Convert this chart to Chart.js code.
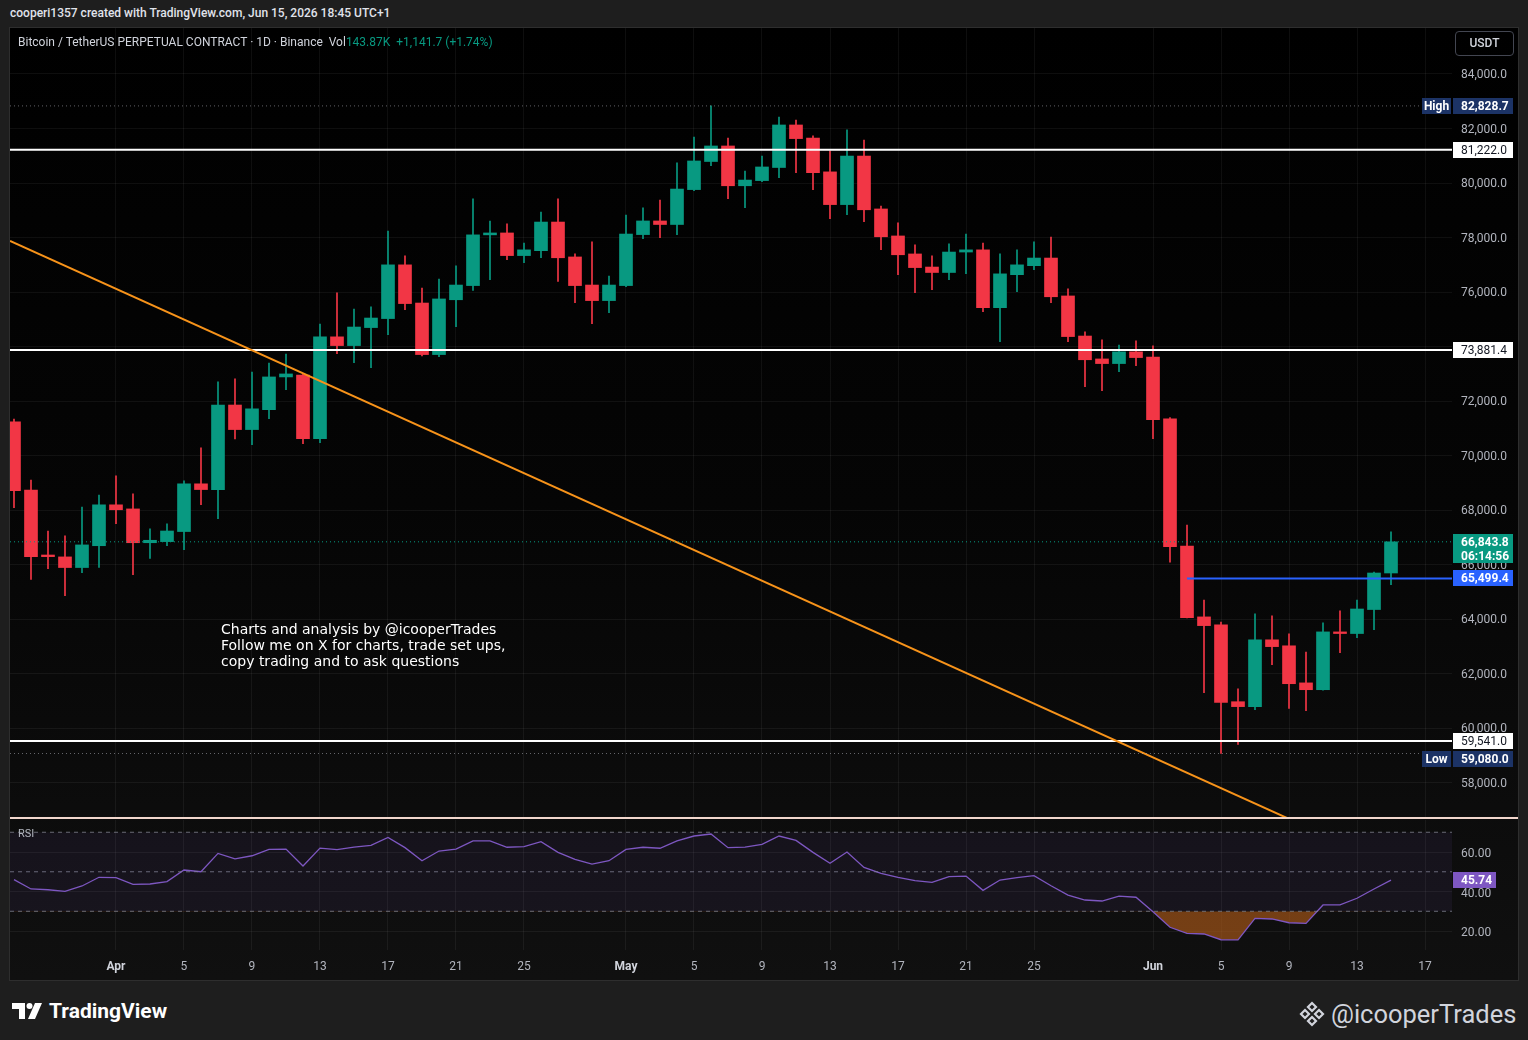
<!DOCTYPE html>
<html>
<head>
<meta charset="utf-8">
<title>BTCUSDT.P 1D</title>
<script src="https://cdn.jsdelivr.net/npm/chart.js@4.4.1/dist/chart.umd.min.js"></script>
<style>
  html, body { margin: 0; padding: 0; }
  body { width: 1528px; height: 1040px; background: #1e1e1e; position: relative; overflow: hidden; font-family: Roboto, "Liberation Sans", sans-serif; }
  #credit { position: absolute; left: 10px; top: 6px; font-size: 12px; font-weight: 500; color: #e0e3eb; }
  #frame { position: absolute; left: 9px; top: 27px; width: 1510px; height: 954px; box-sizing: border-box; border: 1px solid #2e2e2e; background: linear-gradient(#000000 0%, #050505 50%, #101010 100%); }
  canvas { position: absolute; left: 10px; }
  #priceChart { top: 28px; }
  #rsiChart { top: 820px; }
  #sep { position: absolute; left: 10px; top: 817px; width: 1508px; height: 2px; background: #f1d6cc; }
  #legend { position: absolute; left: 18px; top: 35px; font-size: 12px; color: #d1d4dc; white-space: pre; }
  #legend .up { color: #089981; }
  #usdt { position: absolute; left: 1455px; top: 31px; width: 59px; height: 25px; box-sizing: border-box; border: 1px solid #434651; border-radius: 4px; color: #d1d4dc; font-size: 12px; font-weight: 500; text-align: center; line-height: 23px; }
  #note { position: absolute; left: 221px; top: 621px; font-family: "DejaVu Sans", "Open Sans", sans-serif; font-size: 14px; line-height: 16px; color: #ffffff; }
  #rsiTitle { position: absolute; left: 18px; top: 827px; font-size: 11px; color: #b2b5be; }
  #brand { position: absolute; left: 12px; top: 999px; height: 24px; display: flex; align-items: center; color: #ffffff; font-size: 21px; font-weight: bold; }
  #brand svg { margin-right: 5px; }
  #handle { position: absolute; left: 1298px; top: 998px; height: 32px; display: flex; align-items: center; color: #d1d4dc; font-size: 25.5px; }
  #handle svg { margin-right: 5px; }
</style>
</head>
<body>
<div id="credit">cooperi1357 created with TradingView.com, Jun 15, 2026 18:45 UTC+1</div>
<div id="frame"></div>
<canvas id="priceChart" width="1508" height="789"></canvas>
<div id="sep"></div>
<canvas id="rsiChart" width="1508" height="160"></canvas>
<div id="legend">Bitcoin / TetherUS PERPETUAL CONTRACT · 1D · Binance  Vol<span class="up">143.87K</span>  <span class="up">+1,141.7 (+1.74%)</span></div>
<div id="usdt">USDT</div>
<div id="note">Charts and analysis by @icooperTrades<br>Follow me on X for charts, trade set ups,<br>copy trading and to ask questions</div>
<div id="rsiTitle">RSI</div>
<div id="brand">
  <svg width="32" height="20" viewBox="0 0 32 20"><path d="M0 2h13v16H7V8H0z" fill="#fff"/><circle cx="17.5" cy="5" r="3" fill="#fff"/><path d="M23 2h7l-7 16h-7z" fill="#fff"/></svg>TradingView
</div>
<div id="handle">
  <svg width="28" height="28" viewBox="0 0 28 28" fill="none" stroke="#d1d4dc" stroke-width="2.2"><path d="M14 3l4 4-4 4-4-4z"/><path d="M14 17l4 4-4 4-4-4z"/><path d="M7 10l4 4-4 4-4-4z"/><path d="M21 10l4 4-4 4-4-4z"/></svg>@icooperTrades
</div>

<script>
// daily candles, BTCUSDT perpetual
const dates = ['2026-03-26','2026-03-27','2026-03-28','2026-03-29','2026-03-30','2026-03-31',
  '2026-04-01','2026-04-02','2026-04-03','2026-04-04','2026-04-05','2026-04-06','2026-04-07','2026-04-08','2026-04-09','2026-04-10',
  '2026-04-11','2026-04-12','2026-04-13','2026-04-14','2026-04-15','2026-04-16','2026-04-17','2026-04-18','2026-04-19','2026-04-20',
  '2026-04-21','2026-04-22','2026-04-23','2026-04-24','2026-04-25','2026-04-26','2026-04-27','2026-04-28','2026-04-29','2026-04-30',
  '2026-05-01','2026-05-02','2026-05-03','2026-05-04','2026-05-05','2026-05-06','2026-05-07','2026-05-08','2026-05-09','2026-05-10',
  '2026-05-11','2026-05-12','2026-05-13','2026-05-14','2026-05-15','2026-05-16','2026-05-17','2026-05-18','2026-05-19','2026-05-20',
  '2026-05-21','2026-05-22','2026-05-23','2026-05-24','2026-05-25','2026-05-26','2026-05-27','2026-05-28','2026-05-29','2026-05-30',
  '2026-05-31','2026-06-01','2026-06-02','2026-06-03','2026-06-04','2026-06-05','2026-06-06','2026-06-07','2026-06-08','2026-06-09',
  '2026-06-10','2026-06-11','2026-06-12','2026-06-13','2026-06-14','2026-06-15'];

const open = [71240,68745,66360,66290,65900,66700,68200,68050,66810,66850,
  67220,68970,68760,71860,70960,71690,72890,72960,70630,74360,
  74040,74700,75030,77000,75600,73710,75720,76240,78100,78170,
  77340,77520,78570,77290,76260,75690,76240,78110,78610,78480,
  79760,80790,81360,79900,80090,80570,82130,81650,80410,79210,
  80990,79050,78060,77400,76920,76720,77470,77550,75430,76640,
  76970,77250,75860,74390,73550,73380,73810,73620,71350,66690,
  64090,63800,60980,60800,63250,63030,61670,61420,63540,63480,
  64360,65700];
const high = [71340,69110,67240,67060,68120,68560,69260,68600,67320,67500,
  69080,70290,72710,72820,73070,73400,73730,73000,74830,75970,
  75380,75460,78240,77330,76150,76480,76960,79420,78610,78500,
  77800,78940,79420,77400,77840,76590,78830,79090,79380,80740,
  81690,82828.7,81650,80440,80990,82420,82310,81730,81180,81950,
  81580,79160,78540,77730,77330,77770,78130,77800,77400,77550,
  77840,78020,76120,74540,74250,74060,74210,74030,71400,67460,
  64710,63900,61450,64200,64130,63470,62800,63870,64310,64710,
  65730,67210];
const low = [68100,65460,65860,64870,65710,65900,67510,65640,66230,66700,
  66560,68210,67690,70620,70410,71360,72420,70440,70480,73740,
  73410,73230,74440,75360,73660,73630,74730,76060,76460,77190,
  77080,77260,76390,75610,74840,75250,76200,77960,78000,78110,
  79720,80640,79430,79100,80050,80200,80380,79760,78690,78840,
  78580,77560,76640,75980,76090,76460,76680,75280,74180,76020,
  76820,75610,74180,72530,72390,73080,73300,70630,66100,64050,
  61310,59080,59410,60690,62340,60730,60650,61400,62780,63330,
  63620,65270];
const close = [68720,66300,66300,65900,66730,68200,68020,66810,66900,67240,
  68970,68760,71860,70960,71720,72890,73000,70630,74360,74040,
  74720,75050,77000,75580,73710,75750,76260,78100,78170,77340,
  77550,78570,77260,76240,75690,76260,78130,78610,78480,79780,
  80810,81360,79900,80110,80590,82130,81630,80380,79210,80990,
  79020,78030,77370,76900,76720,77470,77550,75430,76670,77000,
  77250,75830,74370,73520,73380,73810,73600,71320,66670,64060,
  63770,60950,60800,63250,63000,61640,61420,63540,63480,64380,
  65700,66843.8];

// RSI(14) pane
const rsi = [46.0,41.3,40.9,40.1,42.8,47.2,47.0,43.6,43.8,45.0,
  50.9,50.0,59.3,56.5,58.1,61.3,61.5,52.9,62.0,61.2,
  62.5,63.4,67.4,62.2,55.6,60.5,61.5,65.6,65.6,62.4,
  62.7,65.2,59.8,56.3,53.9,55.6,61.3,62.4,61.9,65.6,
  68.1,69.1,62.2,62.5,63.9,68.1,65.9,59.8,54.3,60.0,
  52.2,49.2,47.2,45.5,44.6,47.5,47.8,40.6,45.8,47.0,
  48.0,42.9,38.2,35.7,35.2,37.7,37.1,29.8,21.9,18.8,
  18.5,15.6,15.5,26.4,26.1,24.2,23.9,33.2,33.2,36.6,
  41.3,45.74];
const rsiLevels = [70, 50, 30];

// drawings
const whiteLevels = [81222.0, 73881.4, 59541.0];
const blueLevel = 65499.4;
const blueFrom = '2026-06-03';
const highValue = 82828.7;
const lowValue = 59080.0;
const countdown = '06:14:56';
const trendLine = [[-6.235, 77876], [68.88, 56717]]; // [day from Apr 1, price]

// axes
const priceTicks = [58000,60000,62000,64000,66000,68000,70000,72000,74000,76000,78000,80000,82000,84000];
const rsiTicks = [20, 40, 60];
const xTickDates = ['2026-04-01','2026-04-05','2026-04-09','2026-04-13','2026-04-17','2026-04-21','2026-04-25',
  '2026-05-01','2026-05-05','2026-05-09','2026-05-13','2026-05-17','2026-05-21','2026-05-25',
  '2026-06-01','2026-06-05','2026-06-09','2026-06-13','2026-06-17'];
const xTickLabels = ['Apr','5','9','13','17','21','25','May','5','9','13','17','21','25','Jun','5','9','13','17'];

const X_MIN = -6.235, X_MAX = 78.588;
const PRICE_MIN = 56752, PRICE_MAX = 85686;
const RSI_MIN = 10.4, RSI_MAX = 76.2;

const UP = '#089981', DOWN = '#f23645';
const GRID = 'rgba(255,255,255,0.055)';
const AXIS_TEXT = '#b2b5be';

Chart.defaults.font.family = 'Roboto, "Liberation Sans", sans-serif';
Chart.defaults.font.size = 12;

const dayX = d => (Date.parse(d + 'T00:00:00Z') - Date.parse('2026-04-01T00:00:00Z')) / 864e5;
const xs = dates.map(dayX);
const xTickDays = xTickDates.map(dayX);
const candleColor = ctx => close[ctx.dataIndex] >= open[ctx.dataIndex] ? UP : DOWN;
const span = (v, from) => [{x: from === undefined ? X_MIN : from, y: v}, {x: X_MAX, y: v}];
const fmtPrice = v => v.toLocaleString('en-US', {minimumFractionDigits: 1, maximumFractionDigits: 1});

// price tags on the right axis
function tagPlugin(tags) {
  return {
    id: 'tags',
    afterDraw(chart) {
      const {ctx, chartArea, scales: {y}} = chart;
      ctx.save();
      ctx.textBaseline = 'middle';
      tags.forEach(t => {
        const py = Math.round(y.getPixelForValue(t.value)) + (t.dy || 0);
        const h = t.sub ? 29 : 16;
        ctx.fillStyle = t.bg;
        ctx.fillRect(chartArea.right + 1, py - 8, t.w || 60, h);
        ctx.fillStyle = t.fg;
        ctx.font = (t.bold ? 'bold ' : '') + '12px Roboto, "Liberation Sans", sans-serif';
        ctx.fillText(t.text, chartArea.right + 9, py + 1);
        if (t.sub) ctx.fillText(t.sub, chartArea.right + 9, py + 15);
        if (t.prefix) {
          ctx.fillStyle = t.bg;
          ctx.fillRect(chartArea.right - 30, py - 8, 29, 16);
          ctx.fillStyle = t.fg;
          ctx.textAlign = 'center';
          ctx.fillText(t.prefix, chartArea.right - 15.5, py + 1);
          ctx.textAlign = 'left';
        }
      });
      ctx.restore();
    }
  };
}

const xScaleBase = {
  type: 'linear', min: X_MIN, max: X_MAX, offset: false,
  grid: {color: GRID, drawTicks: false, offset: false},
  border: {display: false},
  afterBuildTicks: s => { s.ticks = xTickDays.map(v => ({value: v})); }
};

const lastClose = close[close.length - 1];
const priceTags = [
  {value: highValue, text: fmtPrice(highValue), bg: '#1c3366', fg: '#ffffff', prefix: 'High', bold: true},
  {value: lowValue, text: fmtPrice(lowValue), bg: '#1c3366', fg: '#ffffff', prefix: 'Low', bold: true, dy: 5},
  ...whiteLevels.map(v => ({value: v, text: fmtPrice(v), bg: '#ffffff', fg: '#131722'})),
  {value: blueLevel, text: fmtPrice(blueLevel), bg: '#2962ff', fg: '#ffffff', bold: true},
  {value: lastClose, text: fmtPrice(lastClose), sub: countdown, bg: UP, fg: '#ffffff', bold: true}
];

const lineBase = {type: 'line', pointRadius: 0, fill: false, order: 1, tension: 0};

new Chart(document.getElementById('priceChart'), {
  type: 'bar',
  data: {
    datasets: [
      {
        // wicks
        data: xs.map((x, i) => ({x: x, y: [low[i], high[i]]})),
        backgroundColor: candleColor, barThickness: 1, grouped: false, order: 5
      },
      {
        // bodies
        data: xs.map((x, i) => ({x: x, y: [open[i], close[i]]})),
        backgroundColor: candleColor, barThickness: 13, minBarLength: 1, grouped: false, order: 4
      },
      {...lineBase, data: span(highValue), borderColor: 'rgba(178,181,190,0.55)', borderWidth: 1, borderDash: [1, 3]},
      {...lineBase, data: span(lowValue), borderColor: 'rgba(178,181,190,0.55)', borderWidth: 1, borderDash: [1, 3]},
      {...lineBase, data: span(lastClose), borderColor: UP, borderWidth: 1, borderDash: [1, 3]},
      {...lineBase, data: trendLine.map(p => ({x: p[0], y: p[1]})), borderColor: '#f7931a', borderWidth: 2},
      ...whiteLevels.map(v => ({...lineBase, data: span(v), borderColor: '#ffffff', borderWidth: 2})),
      {...lineBase, data: span(blueLevel, dayX(blueFrom)), borderColor: '#2962ff', borderWidth: 2}
    ]
  },
  options: {
    responsive: false,
    animation: false,
    events: [],
    layout: {padding: 0},
    plugins: {legend: {display: false}, tooltip: {enabled: false}},
    scales: {
      x: {...xScaleBase, ticks: {display: false},
        afterFit: s => { s.height = 0; s.paddingLeft = 0; s.paddingRight = 0; }},
      y: {
        position: 'right', min: PRICE_MIN, max: PRICE_MAX,
        grid: {color: GRID, drawTicks: false},
        border: {display: false},
        ticks: {color: AXIS_TEXT, padding: 9, labelOffset: 1, callback: v => fmtPrice(v)},
        afterBuildTicks: s => { s.ticks = priceTicks.map(v => ({value: v})); },
        afterFit: s => { s.width = 66; s.paddingTop = 0; s.paddingBottom = 0; }
      }
    }
  },
  plugins: [tagPlugin(priceTags)]
});

const DASH = 'rgba(135,138,150,0.75)';
const rsiLast = rsi[rsi.length - 1];

new Chart(document.getElementById('rsiChart'), {
  type: 'line',
  data: {
    datasets: [
      {data: span(rsiLevels[0]), borderColor: DASH, borderWidth: 1, borderDash: [4, 4], pointRadius: 0,
        fill: 2, backgroundColor: 'rgba(126,87,194,0.09)'},
      {data: span(rsiLevels[1]), borderColor: DASH, borderWidth: 1, borderDash: [4, 4], pointRadius: 0, fill: false},
      {data: span(rsiLevels[2]), borderColor: DASH, borderWidth: 1, borderDash: [4, 4], pointRadius: 0, fill: false},
      {
        data: xs.map((x, i) => ({x: x, y: rsi[i]})),
        borderColor: '#7e57c2', borderWidth: 1.3, pointRadius: 0, tension: 0,
        fill: {target: {value: rsiLevels[2]}, above: 'rgba(0,0,0,0)', below: 'rgba(185,95,25,0.6)'}
      }
    ]
  },
  options: {
    responsive: false,
    animation: false,
    events: [],
    layout: {padding: 0},
    plugins: {legend: {display: false}, tooltip: {enabled: false}},
    scales: {
      x: {...xScaleBase,
        ticks: {
          color: ctx => /^[A-Z]/.test(xTickLabels[ctx.index]) ? '#d1d4dc' : AXIS_TEXT,
          padding: 10, autoSkip: false, maxRotation: 0,
          font: ctx => ({size: 12, weight: /^[A-Z]/.test(xTickLabels[ctx.index]) ? 'bold' : 'normal'}),
          callback: (v, i) => xTickLabels[i]
        },
        afterFit: s => { s.height = 30; s.paddingLeft = 0; s.paddingRight = 0; }},
      y: {
        position: 'right', min: RSI_MIN, max: RSI_MAX,
        grid: {color: GRID, drawTicks: false},
        border: {display: false},
        ticks: {color: AXIS_TEXT, padding: 9, labelOffset: 2, callback: v => v.toFixed(2)},
        afterBuildTicks: s => { s.ticks = rsiTicks.map(v => ({value: v})); },
        afterFit: s => { s.width = 66; s.paddingTop = 0; s.paddingBottom = 0; }
      }
    }
  },
  plugins: [tagPlugin([{value: rsiLast, text: rsiLast.toFixed(2), bg: '#7e57c2', fg: '#ffffff', w: 43, bold: true}])]
});
</script>
</body>
</html>
